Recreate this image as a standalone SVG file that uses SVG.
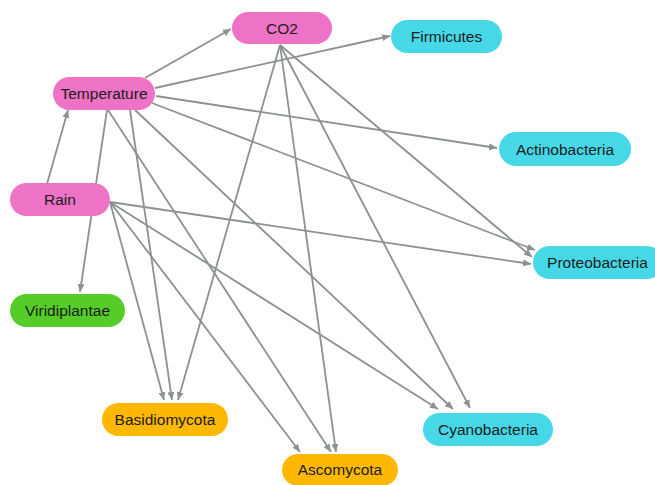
<svg xmlns="http://www.w3.org/2000/svg" width="655" height="485" viewBox="0 0 655 485">
<defs>
<marker id="arr" markerUnits="userSpaceOnUse" markerWidth="9" markerHeight="7" refX="8" refY="3.5" orient="auto">
<path d="M0,0 L8,3.5 L0,7 z" fill="#8c9191"/>
</marker>
<style>
.e{stroke:#8c9191;stroke-width:1.8;fill:none;marker-end:url(#arr)}
.t{font-family:"Liberation Sans",Arial,sans-serif;font-size:15.5px;fill:#1c1c1c;text-anchor:middle;dominant-baseline:central}
.env{fill:#ee72c5}.bac{fill:#47d8e8}.fun{fill:#ffb802}.pla{fill:#55cc27}
</style>
</defs>
<rect width="655" height="485" fill="#ffffff"/>
<g id="edges">
<line class="e" x1="145" y1="78" x2="231" y2="29"/>
<line class="e" x1="155" y1="88" x2="390" y2="36"/>
<line class="e" x1="156" y1="96" x2="497" y2="148"/>
<line class="e" x1="152" y1="103" x2="535" y2="250"/>
<line class="e" x1="135" y1="110" x2="453" y2="409"/>
<line class="e" x1="108" y1="110" x2="331" y2="452"/>
<line class="e" x1="130" y1="110" x2="172" y2="400"/>
<line class="e" x1="107" y1="110" x2="80" y2="292"/>
<line class="e" x1="47" y1="184" x2="68" y2="110"/>
<line class="e" x1="110" y1="202" x2="531" y2="264"/>
<line class="e" x1="110" y1="202" x2="438" y2="409"/>
<line class="e" x1="110" y1="202" x2="300" y2="452"/>
<line class="e" x1="110" y1="202" x2="164" y2="400"/>
<line class="e" x1="280" y1="45" x2="178" y2="400"/>
<line class="e" x1="280" y1="45" x2="336" y2="452"/>
<line class="e" x1="280" y1="45" x2="470" y2="408"/>
<line class="e" x1="280" y1="45" x2="532" y2="257"/>
</g>
<g id="CO2"><rect class="env" x="232" y="12" width="100" height="32" rx="16"/><text class="t" x="282" y="28.5">CO2</text></g>
<g id="Temperature"><rect class="env" x="53" y="77" width="102" height="33" rx="16.5"/><text class="t" x="104" y="93.5">Temperature</text></g>
<g id="Rain"><rect class="env" x="10" y="183" width="100" height="33" rx="16.5"/><text class="t" x="60" y="199.5">Rain</text></g>
<g id="Firmicutes"><rect class="bac" x="391" y="20" width="111" height="33" rx="16.5"/><text class="t" x="446.5" y="36.5">Firmicutes</text></g>
<g id="Actinobacteria"><rect class="bac" x="499" y="132" width="132" height="34" rx="17"/><text class="t" x="565" y="149">Actinobacteria</text></g>
<g id="Proteobacteria"><rect class="bac" x="533" y="246" width="130" height="33" rx="16.5"/><text class="t" x="597.5" y="262.5">Proteobacteria</text></g>
<g id="Cyanobacteria"><rect class="bac" x="423" y="413" width="130" height="33" rx="16.5"/><text class="t" x="488" y="429.5">Cyanobacteria</text></g>
<g id="Viridiplantae"><rect class="pla" x="10" y="294" width="115" height="33" rx="16.5"/><text class="t" x="67.5" y="310.5">Viridiplantae</text></g>
<g id="Basidiomycota"><rect class="fun" x="102" y="403" width="126" height="33" rx="16.5"/><text class="t" x="165" y="419.5">Basidiomycota</text></g>
<g id="Ascomycota"><rect class="fun" x="282" y="454" width="116" height="32" rx="16"/><text class="t" x="340" y="469.5">Ascomycota</text></g>
</svg>
